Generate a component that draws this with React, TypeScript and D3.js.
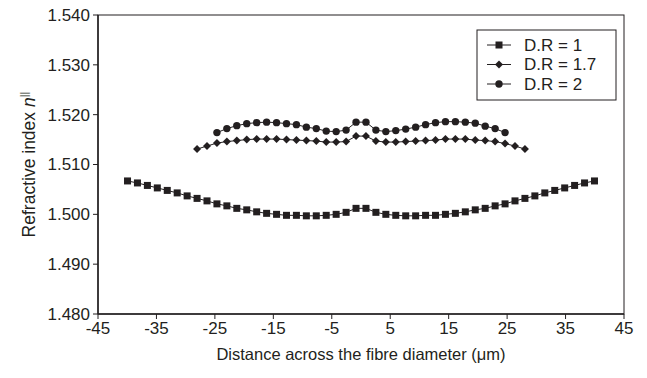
import * as d3 from "d3";

const distanceDR1 = [
  -39.95, -38.25, -36.55, -34.85, -33.15, -31.45, -29.75, -28.05, -26.35, -24.65, -22.95, -21.25,
  -19.55, -17.85, -16.15, -14.45, -12.75, -11.05, -9.35, -7.65, -5.95, -4.25, -2.55, -0.85,
  0.85, 2.55, 4.25, 5.95, 7.65, 9.35, 11.05, 12.75, 14.45, 16.15, 17.85, 19.55,
  21.25, 22.95, 24.65, 26.35, 28.05, 29.75, 31.45, 33.15, 34.85, 36.55, 38.25, 39.95,
];
const indexDR1 = [
  1.5067, 1.5063, 1.5058, 1.5053, 1.5048, 1.5043, 1.5037, 1.5032, 1.5027, 1.5021, 1.5017, 1.5012,
  1.5009, 1.5005, 1.5002, 1.5, 1.4998, 1.4998, 1.4997, 1.4997, 1.4998, 1.5, 1.5004, 1.5012,
  1.5012, 1.5004, 1.5, 1.4998, 1.4997, 1.4997, 1.4998, 1.4998, 1.5, 1.5002, 1.5005, 1.5009,
  1.5012, 1.5017, 1.5021, 1.5027, 1.5032, 1.5037, 1.5043, 1.5048, 1.5053, 1.5058, 1.5063, 1.5067,
];

const distanceDR17 = [
  -28.05, -26.35, -24.65, -22.95, -21.25, -19.55, -17.85, -16.15, -14.45, -12.75, -11.05, -9.35,
  -7.65, -5.95, -4.25, -2.55, -0.85, 0.85, 2.55, 4.25, 5.95, 7.65, 9.35, 11.05,
  12.75, 14.45, 16.15, 17.85, 19.55, 21.25, 22.95, 24.65, 26.35, 28.05,
];
const indexDR17 = [
  1.5131, 1.5137, 1.5143, 1.5146, 1.5148, 1.515, 1.5151, 1.5151, 1.5151, 1.515, 1.5149, 1.5148,
  1.5147, 1.5145, 1.5145, 1.5146, 1.5157, 1.5157, 1.5147, 1.5145, 1.5145, 1.5146, 1.5147, 1.5148,
  1.5149, 1.5151, 1.5151, 1.5151, 1.5149, 1.5148, 1.5146, 1.5142, 1.5137, 1.5131,
];

const distanceDR2 = [
  -24.65, -22.95, -21.25, -19.55, -17.85, -16.15, -14.45, -12.75, -11.05, -9.35, -7.65, -5.95,
  -4.25, -2.55, -0.85, 0.85, 2.55, 4.25, 5.95, 7.65, 9.35, 11.05, 12.75, 14.45,
  16.15, 17.85, 19.55, 21.25, 22.95, 24.65,
];
const indexDR2 = [
  1.5164, 1.5172, 1.5178, 1.5182, 1.5184, 1.5185, 1.5184, 1.5182, 1.518, 1.5175, 1.5172, 1.5167,
  1.5166, 1.5169, 1.5185, 1.5185, 1.5169, 1.5166, 1.5168, 1.5171, 1.5175, 1.518, 1.5184, 1.5186,
  1.5186, 1.5185, 1.5183, 1.5177, 1.5172, 1.5164,
];

const seriesNames = ["D.R = 1", "D.R = 1.7", "D.R = 2"];
const xTicks = [-45, -35, -25, -15, -5, 5, 15, 25, 35, 45];
const yTicks = [1.48, 1.49, 1.5, 1.51, 1.52, 1.53, 1.54];

const ink = "#231f20";
const font = "'Liberation Sans', Arial, sans-serif";

function Marker({ kind, x, y }: { kind: string; x: number; y: number }) {
  if (kind === "square")
    return <rect x={x - 3.5} y={y - 3.5} width={7} height={7} fill={ink} />;
  if (kind === "diamond")
    return (
      <path d={`M${x},${y - 4}L${x + 4},${y}L${x},${y + 4}L${x - 4},${y}Z`} fill={ink} />
    );
  return <circle cx={x} cy={y} r={3.7} fill={ink} />;
}

export default function App() {
  const width = 647;
  const height = 378;
  const marginLeft = 98;
  const marginRight = 23;
  const marginTop = 15;
  const marginBottom = 64;

  const x = d3
    .scaleLinear()
    .domain([-45, 45])
    .range([marginLeft, width - marginRight]);
  const y = d3
    .scaleLinear()
    .domain([1.48, 1.54])
    .range([height - marginBottom, marginTop]);

  const series = [
    { name: seriesNames[0], xs: distanceDR1, ys: indexDR1, marker: "square" },
    { name: seriesNames[1], xs: distanceDR17, ys: indexDR17, marker: "diamond" },
    { name: seriesNames[2], xs: distanceDR2, ys: indexDR2, marker: "circle" },
  ];

  const line = d3
    .line<[number, number]>()
    .x(d => x(d[0]))
    .y(d => y(d[1]));

  const [x0, x1] = x.range();
  const [y0, y1] = y.range();

  const legendX = 477;
  const legendY = 30;

  return (
    <svg
      width={width}
      height={height}
      style={{ position: "absolute", left: 0, top: 0, background: "white" }}
      fontFamily={font}
    >
      <rect x={x0} y={y1} width={x1 - x0} height={y0 - y1} fill="none" stroke={ink} strokeWidth={1} />
      <line x1={x0} x2={x0} y1={y1} y2={y0} stroke={ink} strokeWidth={1.5} />
      <line x1={x0} x2={x1} y1={y0} y2={y0} stroke={ink} strokeWidth={1.5} />

      {yTicks.map(t => (
        <g key={t}>
          <line x1={x0 - 5} x2={x0} y1={y(t)} y2={y(t)} stroke={ink} />
          <text x={x0 - 8} y={y(t)} dy="0.35em" textAnchor="end" fontSize={17} fill={ink}>
            {d3.format(".3f")(t)}
          </text>
        </g>
      ))}
      {xTicks.map(t => (
        <g key={t}>
          <line x1={x(t)} x2={x(t)} y1={y0} y2={y0 + 5} stroke={ink} />
          <text x={x(t)} y={y0 + 20} textAnchor="middle" fontSize={17} fill={ink}>
            {t}
          </text>
        </g>
      ))}

      <text x={(x0 + x1) / 2} y={360} textAnchor="middle" fontSize={16.5} fill={ink}>
        Distance across the fibre diameter (μm)
      </text>
      <text
        transform={`translate(35,${(y0 + y1) / 2}) rotate(-90)`}
        textAnchor="middle"
        fontSize={17.5}
        fill={ink}
      >
        Refractive index <tspan fontStyle="italic">n</tspan>
        <tspan fontSize={11} dy={-7}>||</tspan>
      </text>

      {series.map(s => {
        const pts = s.xs.map((d, i) => [d, s.ys[i]] as [number, number]);
        return (
          <g key={s.name}>
            <path d={line(pts) ?? undefined} fill="none" stroke={ink} strokeWidth={1} />
            {pts.map((p, i) => (
              <Marker key={i} kind={s.marker} x={x(p[0])} y={y(p[1])} />
            ))}
          </g>
        );
      })}

      <rect x={legendX} y={legendY} width={139} height={70} fill="white" stroke={ink} strokeWidth={1} />
      {series.map((s, i) => {
        const ly = legendY + 15 + i * 19.5;
        return (
          <g key={s.name}>
            <line x1={legendX + 10} x2={legendX + 34} y1={ly} y2={ly} stroke={ink} />
            <Marker kind={s.marker} x={legendX + 22} y={ly} />
            <text x={legendX + 47} y={ly} dy="0.35em" fontSize={17} fill={ink}>
              {s.name}
            </text>
          </g>
        );
      })}
    </svg>
  );
}
